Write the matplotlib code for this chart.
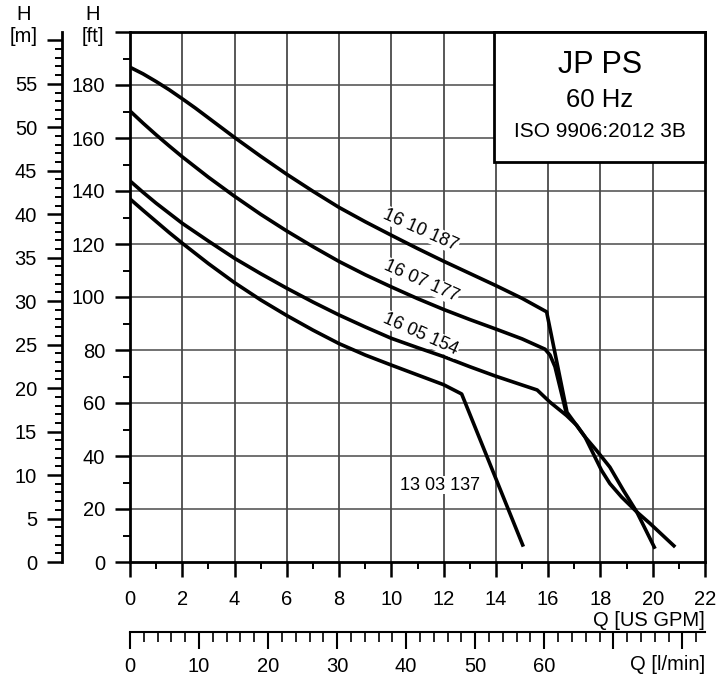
import matplotlib
matplotlib.use('Agg')
import matplotlib.pyplot as plt
from matplotlib.patches import Rectangle
from matplotlib.ticker import FixedLocator
import numpy as np

plt.rcParams.update({'font.family': ['Liberation Sans', 'DejaVu Sans'], 'font.size': 14.5})

# curve data: Q [US GPM], H [ft]
q_187 = [0, 0.5, 1, 1.5, 2, 2.5, 3, 4, 5, 6, 7, 8, 9, 10, 11, 12, 13, 14, 15, 15.94,
         16.72, 17.41, 18.04, 18.36, 18.81, 19.39, 19.9, 20.86]
h_187 = [186.7, 184.2, 181.3, 178.2, 174.8, 171.3, 167.6, 160.2, 153.1, 146.3, 139.9, 133.8, 128.4, 123.3,
         118.3, 113.5, 108.9, 104.3, 99.5, 94.4,
         56.5, 47.2, 34.6, 29.6, 24.5, 18.9, 14.5, 5.65]

q_177 = [0, 0.5, 1, 1.5, 2, 3, 4, 5, 6, 7, 8, 9, 10, 11, 12, 13, 14, 15, 15.88,
         16.07, 16.26, 16.71]
h_177 = [170.2, 165.6, 161.2, 157, 152.9, 145.2, 138, 131.2, 124.9, 119, 113.4, 108.4, 103.8, 99.4, 95.3,
         91.5, 87.9, 84.2, 80.3,
         78.1, 73.7, 55.5]

q_154 = [0, 0.5, 1, 2, 3, 4, 5, 6, 7, 8, 9, 10, 11, 12, 13, 14, 15, 15.58,
         16.06, 16.70, 17.09, 17.41, 17.85, 18.36, 18.88, 19.39, 20.09]
h_154 = [143.8, 139.5, 135.4, 127.8, 121.1, 114.6, 108.8, 103.3, 98.1, 93.2, 88.7, 84.4, 80.9, 77.5, 73.7,
         70.1, 66.8, 64.9,
         60.4, 55.3, 51.6, 47.2, 42.1, 35.8, 27.0, 18.9, 5.0]

q_137 = [0, 0.5, 1, 1.5, 2, 3, 4, 5, 6, 7, 8, 9, 10, 11, 12, 12.69, 15.05]
h_137 = [137, 132.7, 128.5, 124.3, 120.3, 112.6, 105.4, 98.9, 93.0, 87.5, 82.4, 78.1, 74.3, 70.6, 66.9,
         63.4, 5.8]

curve_names = ['16 10 187', '16 07 177', '16 05 154', '13 03 137']
label_q = [11.13, 11.13, 11.13, 11.86]
label_h = [125.3, 106, 86, 29]
label_rot = [-24, -24, -24, 0]

gpm_ticks = list(range(0, 23, 2))
ft_ticks = list(range(0, 201, 20))
m_ticks = list(range(0, 61, 5))
lpm_ticks = list(range(0, 81, 10))

W, H = 717, 685
fig = plt.figure(figsize=(W / 100, H / 100), dpi=100)
ax = fig.add_axes([130 / W, 1 - 562 / H, 575 / W, 530 / H])
ax.set_xlim(0, 22)
ax.set_ylim(0, 200)

# grid
for q in gpm_ticks[1:-1]:
    ax.axvline(q, color='#2a2a2a', lw=1.1, zorder=1)
for h in ft_ticks[1:-1]:
    ax.axhline(h, color='#4a4a4a', lw=1.1, zorder=1)

for q, h in [(q_187, h_187), (q_177, h_177), (q_154, h_154), (q_137, h_137)]:
    ax.plot(q, h, color='black', lw=2.6, zorder=3, solid_joinstyle='round', solid_capstyle='butt')

for name, lq, lh, rot in zip(curve_names, label_q, label_h, label_rot):
    ax.text(lq, lh, name, fontsize=13, rotation=rot, rotation_mode='anchor', ha='center', va='center',
            zorder=4, bbox=dict(facecolor='white', edgecolor='none', pad=0.5))

for s in ax.spines.values():
    s.set_linewidth(2.0)

ax.set_xticks(gpm_ticks)
ax.set_xticklabels([str(t) for t in gpm_ticks])
ax.xaxis.set_minor_locator(FixedLocator(range(1, 22, 2)))
ax.set_yticks(ft_ticks)
ax.set_yticklabels([str(t) if t < 200 else '' for t in ft_ticks])
ax.yaxis.set_minor_locator(FixedLocator(range(10, 200, 20)))
ax.tick_params(which='major', length=11, width=1.8, direction='out')
ax.tick_params(which='minor', length=5, width=1.4, direction='out')
ax.tick_params(axis='x', which='major', pad=9)
ax.tick_params(axis='y', which='major', pad=7)

# metre axis
secy = ax.secondary_yaxis(-68 / 575, functions=(lambda f: f * 0.3048, lambda m: m / 0.3048))
secy.set_yticks(m_ticks)
secy.set_yticklabels([str(t) if t < 60 else '' for t in m_ticks])
secy.yaxis.set_minor_locator(FixedLocator(range(0, 61)))
secy.spines['left'].set_linewidth(2.0)
secy.tick_params(which='major', length=11, width=1.8, direction='out', pad=7)
secy.tick_params(which='minor', length=5, width=1.4, direction='out')

# l/min axis
secx = ax.secondary_xaxis(-70 / 530, functions=(lambda g: g * 3.78541, lambda l: l / 3.78541))
secx.set_xticks(lpm_ticks)
secx.set_xticklabels([str(t) if t <= 60 else '' for t in lpm_ticks])
secx.xaxis.set_minor_locator(FixedLocator(range(0, 84, 2)))
secx.spines['bottom'].set_linewidth(1.5)
secx.tick_params(which='major', length=12, width=1.5, direction='out', pad=6)
secx.tick_params(which='minor', length=7, width=1.2, direction='out')

# title box
ax.add_patch(Rectangle((364 / 575, 400 / 530), 211 / 575, 130 / 530, transform=ax.transAxes,
                       facecolor='white', edgecolor='black', lw=2.0, zorder=5, clip_on=False))
ax.text(0.8174, 0.9377, 'JP PS', transform=ax.transAxes, fontsize=22, ha='center', va='center', zorder=6)
ax.text(0.8174, 0.8717, '60 Hz', transform=ax.transAxes, fontsize=18.5, ha='center', va='center', zorder=6)
ax.text(0.8174, 0.8132, 'ISO 9906:2012 3B', transform=ax.transAxes, fontsize=15, ha='center', va='center', zorder=6)

# axis captions
def ftxt(x, y, s, **kw):
    fig.text(x / W, 1 - y / H, s, va='center', **kw)

ftxt(24, 15, 'H', ha='center')
ftxt(24, 37, '[m]', ha='center')
ftxt(93, 15, 'H', ha='center')
ftxt(93, 37, '[ft]', ha='center')
ftxt(705, 620, 'Q [US GPM]', ha='right')
ftxt(705, 665, 'Q [l/min]', ha='right')

fig.savefig('out.png', dpi=100)
